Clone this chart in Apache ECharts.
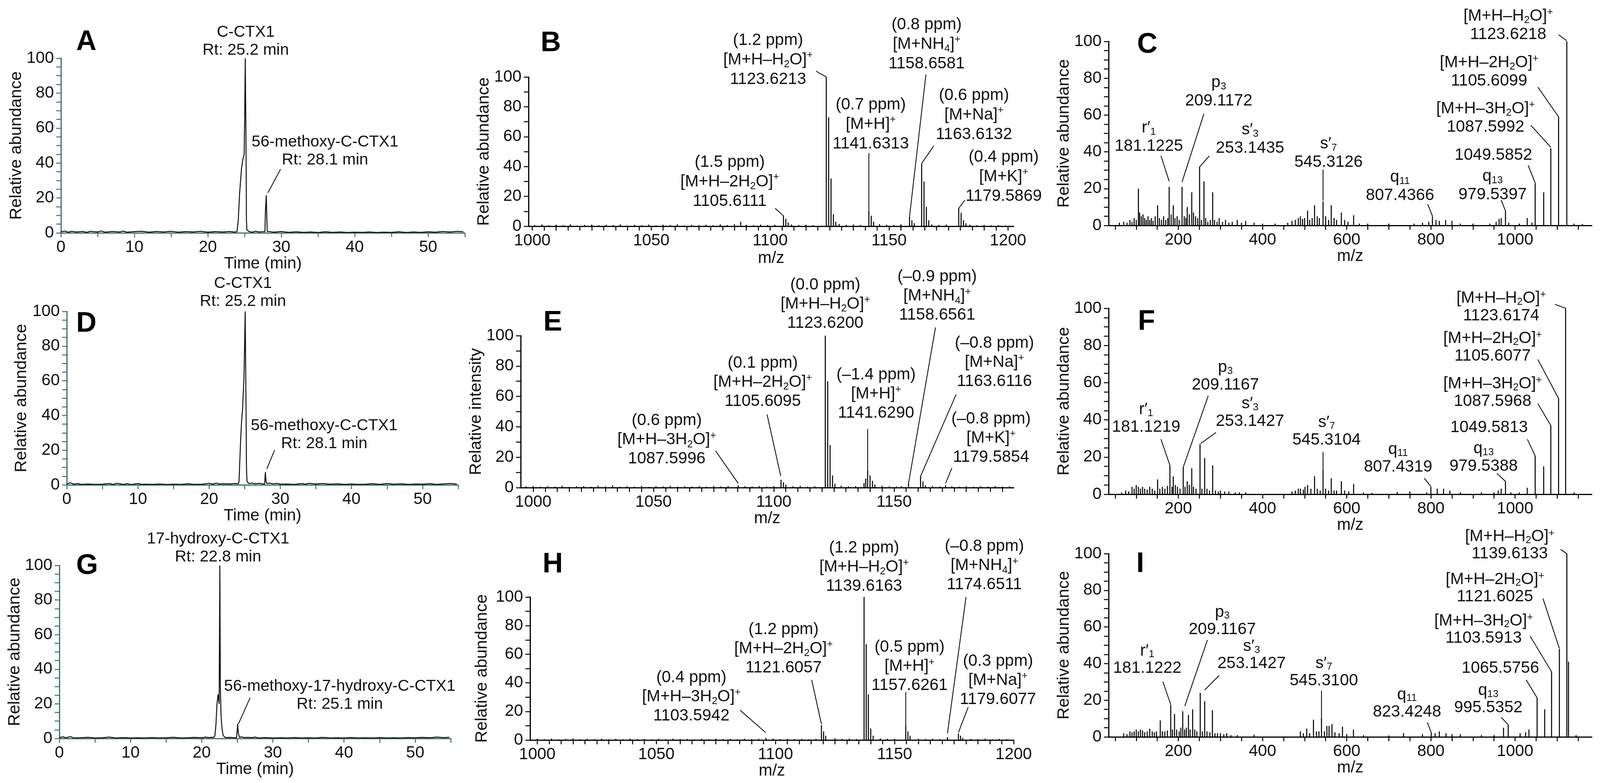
<!DOCTYPE html>
<html><head><meta charset="utf-8">
<script src="https://cdn.jsdelivr.net/npm/echarts@6/dist/echarts.min.js"></script>
<style>html,body{margin:0;padding:0;background:#fff}#c{width:4102px;height:2004px}</style>
</head><body><div id="c"></div>
<script>
// ---------------- tick labels ----------------
const timeLabels = [0, 10, 20, 30, 40, 50];
const relLabels = [0, 20, 40, 60, 80, 100];
const ms1Labels = [1000, 1050, 1100, 1150, 1200];
const ms2Labels = [200, 400, 600, 800, 1000];

// ---------------- chromatograms [time, rel. abundance] ----------------
const chromA = [[0,0.6],[0.5,1.0],[1,0.4],[1.5,0.9],[2,0.5],[3,0.8],[3.5,0.3],[4,0.9],[5,0.5],[5.5,1.1],[6,0.4],[7,0.8],[8,0.5],[8.5,1.0],[9,0.4],[10,0.7],[11,0.9],[12,0.4],[13,0.8],[14,0.5],[15,0.9],[16,0.4],[17,0.7],[18,0.5],[19,0.9],[20,0.4],[21,0.7],[22,0.5],[23,0.8],[23.5,0.5],[23.97,0.6],[24.15,7.4],[24.32,22],[24.59,37],[24.77,42],[24.95,45],[25.02,66],[25.1,100],[25.2,52],[25.26,7.5],[25.32,1.8],[25.6,0.8],[26,0.4],[26.5,0.9],[27,0.5],[27.5,0.7],[27.78,0.6],[27.84,12],[27.96,21.5],[28.05,6],[28.1,0.8],[28.5,0.7],[29,0.4],[30,0.8],[31,0.3],[32,0.6],[33,0.3],[34,0.5],[35,0.2],[36,0.6],[37,0.3],[38,0.5],[39,0.2],[40,0.4],[41,0.3],[42,0.5],[43,0.2],[44,0.4],[45,0.3],[46,0.6],[47,0.2],[48,0.5],[49,0.3],[50,0.6],[51,0.4],[52,0.8],[53,0.5],[54,0.9],[54.8,0.6]];
const chromD = [[0,0.5],[0.5,1.2],[1,0.4],[1.5,0.8],[2,0.3],[3,0.5],[4,0.3],[5,0.4],[6,0.8],[6.5,0.3],[7,0.9],[8,0.3],[8.5,0.7],[9,0.2],[10,0.8],[10.5,0.3],[11,0.4],[12,0.3],[13,0.5],[14,0.2],[15,0.4],[16,0.3],[17,0.6],[18,0.3],[19,0.4],[20,0.9],[20.5,0.4],[21,1.0],[21.5,0.5],[22,0.7],[23,0.5],[23.5,0.8],[24.1,0.6],[24.2,2],[24.4,23],[24.55,36],[24.7,44],[24.9,62],[25.07,100],[25.17,52],[25.25,10],[25.32,2],[25.6,0.8],[26,1.0],[26.5,0.6],[27,0.9],[27.5,0.6],[27.8,0.5],[27.9,7.3],[28.0,2],[28.1,0.8],[28.5,1.0],[29,0.6],[29.5,0.9],[30,0.4],[31,0.5],[32,0.3],[33,0.8],[33.5,0.4],[34,0.9],[35,0.5],[36,0.8],[37,0.4],[38,0.6],[39,0.3],[40,0.5],[41,0.3],[42,0.4],[43,0.7],[44,0.3],[45,0.8],[46,0.4],[47,0.6],[48,0.3],[49,0.5],[50,0.4],[51,0.7],[52,0.3],[53,0.6],[54,0.8],[54.8,0.5]];
const chromG = [[0,0.5],[0.5,0.9],[1,0.4],[1.5,1.1],[2,0.3],[3,0.4],[4,0.7],[5,0.3],[6,0.4],[7,0.8],[8,0.3],[9,0.5],[10,0.3],[11,0.4],[12,0.3],[13,0.5],[14,0.3],[15,0.4],[16,0.7],[17,0.3],[18,0.4],[19,0.6],[20,0.4],[20.5,0.8],[21,0.5],[21.5,0.7],[21.7,0.6],[21.85,1.5],[22.0,8],[22.15,20],[22.3,25.5],[22.45,20],[22.55,100],[22.62,30],[22.72,13],[22.85,6],[23.0,2],[23.2,0.8],[23.5,0.5],[24,0.6],[24.5,0.4],[24.9,0.5],[25.05,8.3],[25.15,3],[25.3,0.7],[25.6,0.9],[26,0.5],[26.5,0.7],[27,0.4],[27.5,0.8],[28,0.3],[29,0.5],[30,0.3],[31,0.4],[32,0.3],[33,0.5],[34,0.3],[35,0.4],[36,0.3],[37,0.6],[38,0.3],[39,0.4],[40,0.3],[41,0.5],[42,0.3],[43,0.4],[44,0.3],[45,0.5],[46,0.3],[47,0.4],[48,0.3],[49,0.5],[50,0.4],[51,0.6],[52,0.4],[53,0.8],[54,0.5],[54.8,0.7]];

// ---------------- full-scan spectra [m/z, rel. abundance] ----------------
const specB = [[1087.6,3],[1105.6,7],[1106.6,5],[1107.6,2.5],[1123.6,100],[1124.6,73],[1125.6,32],[1126.6,8],[1127.6,3],[1141.5,10.2],[1142.5,7],[1143.5,3],[1158.6,6.3],[1159.6,4],[1160.6,2],[1163.7,42],[1164.7,30],[1165.7,13],[1166.7,4],[1179.3,12],[1180.3,9],[1181.3,4],[1182.3,2]];
const noiseB = [[1001,0.8],[1004,1.2],[1007,0.6],[1010,1.0],[1013,0.7],[1016,1.3],[1019,0.5],[1022,0.9],[1025,1.1],[1028,0.6],[1031,1.0],[1034,0.8],[1037,1.2],[1040,0.5],[1043,0.9],[1046,0.7],[1049,1.1],[1052,0.6],[1055,1.0],[1058,0.8],[1061,1.3],[1064,0.5],[1067,0.9],[1070,0.7],[1073,1.0],[1076,0.6],[1079,1.2],[1082,0.8],[1085,1.4],[1090,0.9],[1093,0.7],[1096,1.1],[1099,0.8],[1102,1.0],[1109,1.2],[1112,0.8],[1115,1.0],[1118,0.7],[1129,1.5],[1132,0.9],[1135,1.2],[1138,0.8],[1146,1.4],[1149,1.0],[1152,0.8],[1155,1.3],[1168,1.2],[1171,0.9],[1174,1.1],[1184,1.0],[1187,0.7],[1190,0.9],[1193,0.6],[1196,0.8],[1199,0.5]];
const specE = [[1085.2,1.5],[1103,5.1],[1104,3.5],[1105,2],[1121.4,100],[1122.4,70],[1123.4,28],[1124.4,8],[1125.4,2.5],[1137.5,3],[1138.2,6],[1139,11.3],[1140,8],[1141,4.5],[1142,2],[1156,2.8],[1161,7.5],[1162,4],[1163,1.5],[1171.4,1.5]];
const noiseE = [[997,0.8],[1000,1.1],[1003,0.6],[1006,1.0],[1009,0.7],[1012,1.2],[1015,0.5],[1018,0.9],[1021,1.0],[1024,0.6],[1027,1.2],[1030,0.8],[1033,1.4],[1036,0.6],[1039,0.9],[1042,0.7],[1045,1.1],[1048,0.5],[1051,1.0],[1054,0.8],[1057,1.2],[1060,0.6],[1063,0.9],[1066,0.7],[1069,1.0],[1072,0.6],[1075,1.1],[1078,0.8],[1081,1.0],[1088,0.9],[1091,0.7],[1094,1.1],[1097,0.8],[1100,1.0],[1108,0.9],[1111,1.2],[1114,0.7],[1117,1.0],[1128,1.3],[1131,0.8],[1134,1.0],[1145,1.2],[1148,0.9],[1151,0.7],[1153,1.0],[1166,1.1],[1169,0.8],[1174,0.9],[1177,0.7],[1180,1.0],[1183,0.6],[1186,0.9],[1189,0.7],[1192,1.0],[1195,0.6],[1198,0.8]];
const specH = [[1096,1.5],[1119.3,10.5],[1120.2,6],[1121.1,3],[1137.2,100],[1138.1,67],[1139,32],[1140,8],[1141,3],[1154.7,10],[1155.6,6],[1156.5,3],[1172.2,2],[1176.8,4.5],[1177.7,3],[1178.6,1.5]];
const noiseH = [[1000,0.9],[1003,0.6],[1006,1.0],[1009,0.5],[1012,0.8],[1015,1.1],[1018,0.6],[1021,0.9],[1024,0.7],[1027,1.0],[1030,0.5],[1033,0.9],[1036,0.6],[1039,1.0],[1042,0.7],[1045,0.8],[1048,0.5],[1051,0.9],[1054,0.6],[1057,1.0],[1060,0.7],[1063,0.8],[1066,0.5],[1069,0.9],[1072,0.6],[1075,1.0],[1078,0.7],[1081,0.8],[1084,0.5],[1087,0.9],[1090,0.6],[1093,0.8],[1099,1.0],[1102,0.7],[1105,0.9],[1108,0.6],[1111,0.8],[1114,0.5],[1117,0.9],[1125,1.2],[1128,0.8],[1131,1.0],[1134,0.7],[1144,1.1],[1147,0.8],[1150,0.9],[1160,1.0],[1163,0.7],[1166,0.9],[1169,0.6],[1182,0.8],[1185,0.6],[1188,0.9],[1191,0.5],[1194,0.8],[1197,0.6]];

// ---------------- MS/MS spectra [m/z, rel. abundance] ----------------
const specC = [[60,1.5],[70,2],[78,1.5],[85,3],[90,2],[95,4],[100,3],[105.1,20],[108,7],[112,5],[116,6],[120,4],[124,3],[128,5],[132,3],[136,4],[140,2.5],[145,5],[150.7,11],[155,4],[160,3],[165,5],[170,3],[175,4],[178.2,21],[183,6],[188,11],[192,4],[197,5],[202,3],[208.8,21],[214,5],[218,4],[221.1,10],[226,6],[231.9,18],[236,7],[241,5],[246,4],[250.5,32],[255,3],[260.9,24],[265,4],[270,2],[276,3],[281.6,18],[286,3],[292,2],[297,4],[305,2],[312,3],[320,1.5],[328,2],[340,3],[350,1.5],[360,2.5],[380,1.5],[400,1],[430,1],[460,1.5],[470,2.5],[478,3],[485,4],[490,5],[495,3.5],[500,4],[507,8],[512,3],[518,4],[523.6,11],[530,5],[535,4],[543.8,13],[550,5],[557,3],[563.3,11],[570,4],[576,3],[587.3,7],[595,3],[603,2],[616.4,5.5],[630,1],[650,1],[700,1],[760,1],[780,1.5],[795,2],[803.7,5],[812,3],[820,2.5],[835,3],[850,2.5],[870,1],[900,1],[940,1],[955,2],[962,3.5],[967,4],[977.2,8],[985,1.5],[1010,1],[1029,4],[1040,1.5],[1047.8,23],[1068,18],[1084.9,42],[1103.4,59],[1122.9,100],[1140,1],[1160,0.8]];
const specF = [[65,1],[75,2],[82,1.5],[90,4],[95,3],[100,5],[105,4],[110,3],[115,4],[120,3],[126,2.5],[132,4],[138,3],[144,2],[150.7,8],[156,3],[162,4],[168,3],[174,4.5],[180,15.5],[185,4],[188,9.6],[193,5],[198,4],[204,3],[211.6,14.5],[216,4],[221.1,7],[226,5],[231.9,14],[236,4],[242,3],[251.5,27],[256,3],[262.6,19.5],[268,3],[274,2],[281.6,15.5],[288,2],[295,1.5],[300,2],[310,1.5],[320,1.5],[335,1],[345,1],[360,1],[470,1.5],[478,2],[485,3],[490,3],[497,2.5],[501,4],[507,5],[515,3],[523.6,9.7],[530,3],[537,2],[543.8,13],[550,3],[557,2],[563.3,8.6],[570,2],[576,2],[587.3,7],[595,2],[605,1.5],[616.4,5.5],[640,1],[660,0.8],[720,1.2],[750,1.5],[790,1],[800,4],[815,3],[830,3],[845,2],[870,1],[920,1],[950,1],[960,2],[967,3],[977.2,7],[990,1],[1010,1],[1029,3.5],[1047.8,20.6],[1068,15],[1084.9,37],[1103.4,51.5],[1120.1,100],[1140,1]];
const specI = [[70,2],[78,1.5],[85,3],[90,2.5],[95,3],[100,4],[105,3],[110,4],[115,3.5],[120,2.5],[126,3],[132,4.5],[138,3],[143,2.5],[148,3],[157,9],[162,3],[168,3],[174,3.5],[181.9,17.5],[186,4],[191,12.5],[196,4],[202,3],[206,5],[210.5,14],[215,4],[219,5],[224,12],[228,4],[234,15],[239,4],[244,3],[252,24],[257,3],[262.6,19.5],[268,3],[275,2.5],[281,14.5],[287,2],[293,2],[300,2],[308,1.5],[315,2],[325,1],[340,1],[380,1.2],[490,3],[497,2],[505,4.5],[512,2],[521,9.4],[528,3],[534,3],[540.1,10.6],[547,3],[553,6],[558,6],[565,7],[572,2.5],[582,2],[590,5.6],[600,1.5],[616,4],[640,1],[700,0.8],[735,2],[780,1.5],[800.9,2.3],[810,2],[820,3],[836,2],[850,1.5],[870,1.5],[920,1],[950,1],[972.6,5],[983.7,6.6],[1012,2],[1025,2.5],[1033,4],[1052.4,21.3],[1070.4,15],[1086.7,35.6],[1105.3,48],[1123,100],[1127,41],[1145,1]];

// ---------------- annotations [x, y, text] and leader lines [x1, y1, x2, y2] (data units) ----------------
const annA = [[25.16,109.8,'C-CTX1\nRt: 25.2 min'],[35.96,46.8,'56-methoxy-C-CTX1\nRt: 28.1 min']];
const leadA = [[28.19,23,29.9,36.4]];
const annD = [[24.75,110.8,'C-CTX1\nRt: 25.2 min'],[36.17,29,'56-methoxy-C-CTX1\nRt: 28.1 min']];
const leadD = [[28.1,9.2,29.2,20]];
const annG = [[22.3,110,'17-hydroxy-C-CTX1\nRt: 22.8 min'],[39.4,24.8,'56-methoxy-17-hydroxy-C-CTX1\nRt: 25.1 min']];
const leadG = [[25.15,8.3,26.8,23.5]];

const annB = [[1099.1,111.5,'(1.2 ppm)\n[M+H–H{s|2}O]{p|+}\n1123.6213'],[1165.8,122,'(0.8 ppm)\n[M+NH{s|4}]{p|+}\n1158.6581'],[1142.3,68.3,'(0.7 ppm)\n[M+H]{p|+}\n1141.6313'],[1185.7,74.6,'(0.6 ppm)\n[M+Na]{p|+}\n1163.6132'],[1198.2,33.2,'(0.4 ppm)\n[M+K]{p|+}\n1179.5869'],[1083,29.8,'(1.5 ppm)\n[M+H–2H{s|2}O]{p|+}\n1105.6111']];
const leadB = [[1119.3,103.9,1123.6,100],[1165.5,101.6,1158.6,6.3],[1141.5,49,1141.5,10.2],[1168.8,53.9,1163.7,42],[1181.9,17.5,1179.3,12],[1102.1,12,1105.6,7]];
const annE = [[1121.4,120.8,'(0.0 ppm)\n[M+H–H{s|2}O]{p|+}\n1123.6200'],[1167.9,126,'(–0.9 ppm)\n[M+NH{s|4}]{p|+}\n1158.6561'],[1095.4,69.4,'(0.1 ppm)\n[M+H–2H{s|2}O]{p|+}\n1105.6095'],[1142.5,61.7,'(–1.4 ppm)\n[M+H]{p|+}\n1141.6290'],[1191.7,82.5,'(–0.8 ppm)\n[M+Na]{p|+}\n1163.6116'],[1190.3,32.6,'(–0.8 ppm)\n[M+K]{p|+}\n1179.5854'],[1055.5,31.4,'(0.6 ppm)\n[M+H–3H{s|2}O]{p|+}\n1087.5996']];
const leadE = [[1167.2,105.4,1156,2.8],[1097.2,48.1,1102.9,7.5],[1139,38.6,1139,11.3],[1175.8,61.4,1161,7.5],[1174,12.9,1171.4,2.8],[1075.8,24.2,1085.2,2.8]];
const annH = [[1137.2,121,'(1.2 ppm)\n[M+H–H{s|2}O]{p|+}\n1139.6163'],[1187.7,121.9,'(–0.8 ppm)\n[M+NH{s|4}]{p|+}\n1174.6511'],[1103.4,63.9,'(1.2 ppm)\n[M+H–2H{s|2}O]{p|+}\n1121.6057'],[1156.3,51.4,'(0.5 ppm)\n[M+H]{p|+}\n1157.6261'],[1193.4,41.8,'(0.3 ppm)\n[M+Na]{p|+}\n1179.6077'],[1064.7,30.3,'(0.4 ppm)\n[M+H–3H{s|2}O]{p|+}\n1103.5942']];
const leadH = [[1180,100,1172.2,4.6],[1115.2,42.1,1119.3,11.2],[1154.7,33.6,1154.7,10.1],[1180.9,23,1176.8,5.2],[1085.2,20.8,1095.9,5.2]];

const annC = [[983.7,108.7,'[M+H–H{s|2}O]{p|+}\n1123.6218'],[938.3,83.4,'[M+H–2H{s|2}O]{p|+}\n1105.6099'],[929.9,58.4,'[M+H–3H{s|2}O]{p|+}\n1087.5992'],[948.5,38.2,'1049.5852'],[946.6,21.7,'q{s|13}\n979.5397'],[726.6,21.2,'q{s|11}\n807.4366'],[556.8,39.3,'s′{s|7}\n545.3126'],[370.3,46.9,'s′{s|3}\n253.1435'],[296,72.6,'p{s|3}\n209.1172'],[129.9,48,'r′{s|1}\n181.1225']];
const leadC = [[1103.4,103.6,1122.9,100.4],[1054.2,75.2,1103.4,59],[1037.5,54.4,1084.9,42.5],[1031.1,32.7,1047.8,23.1],[967,13.8,977.2,7.9],[792.5,11.5,803.7,5.1],[543.8,30.4,543.8,13.4],[273.7,37.8,250.5,31.8],[260.8,60.7,208.8,23.6],[158.7,37.8,178.2,24]];
const annF = [[967,100.6,'[M+H–H{s|2}O]{p|+}\n1123.6174'],[946.6,79,'[M+H–2H{s|2}O]{p|+}\n1105.6077'],[946.6,54.6,'[M+H–3H{s|2}O]{p|+}\n1087.5968'],[938.3,35.9,'1049.5813'],[925.3,19.7,'q{s|13}\n979.5388'],[722,19.3,'q{s|11}\n807.4319'],[552.2,33.8,'s′{s|7}\n545.3104'],[370.3,43.9,'s′{s|3}\n253.1427'],[311.8,63.4,'p{s|3}\n209.1167'],[123.4,40.8,'r′{s|1}\n181.1219']];
const leadF = [[1095.1,102.1,1120.1,100],[1054.2,72.5,1103.4,51.5],[1054.2,48.7,1084.9,37],[1029.2,29.6,1047.8,20.6],[956.8,11.3,977.2,6.9],[784.2,8.6,800,4.2],[543.8,22.7,543.8,12.8],[289.5,33.2,253,27.3],[271,52.9,211.6,14.5],[158.7,29.6,180,15.5]];
const annI = [[987.4,104.5,'[M+H–H{s|2}O]{p|+}\n1139.6133'],[952.2,81.2,'[M+H–2H{s|2}O]{p|+}\n1121.6025'],[925.3,58.6,'[M+H–3H{s|2}O]{p|+}\n1103.5913'],[965.2,37.5,'1065.5756'],[936.4,20.5,'q{s|13}\n995.5352'],[743.3,18.3,'q{s|11}\n823.4248'],[545.7,35.4,'s′{s|7}\n545.3100'],[374,44.6,'s′{s|3}\n253.1427'],[304.4,63.3,'p{s|3}\n209.1167'],[126.2,42.2,'r′{s|1}\n181.1222']];
const leadI = [[1108.1,102.3,1123,100],[1066.3,75.5,1105.3,48.2],[1035.7,55,1086.7,35.6],[1026.4,31.1,1052.4,21.3],[967,10.7,983.7,6.6],[791.6,7.9,800.9,2.3],[540.1,25.2,540.1,10.7],[296.9,33.5,262.6,25.6],[269.1,52.9,215.3,16.8],[163.3,30.1,181.9,17.7]];

// ---------------- layout / styling ----------------
const FONT = '"Liberation Sans", Arial, Helvetica, sans-serif';
const TEAL = '#41706f';
function steps(a, b, s) { const r = []; for (let v = a; v <= b + 1e-9; v += s) r.push(Math.round(v * 1000) / 1000); return r; }
const timeTicks = steps(0, 55, 5), rel5 = steps(0, 100, 5), rel10 = steps(0, 100, 10);
const ms1Ticks = steps(1000, 1200, 5), ms2Ticks = steps(50, 1150, 50);
const plain = v => String(Math.round(v));

const panels = [
  {L:'A', kind:'chrom', g:[156,149,1034,447], x:[0,55], data:chromA, ann:annA, lead:leadA, yName:'Relative abundance', xName:'Time (min)', xGap:46, yGap:86, let:[221,108], lh:46, fs:41},
  {L:'D', kind:'chrom', g:[171,797,1002,444], x:[0,55], data:chromD, ann:annD, lead:leadD, yName:'Relative abundance', xName:'Time (min)', xGap:44, yGap:94, let:[221,829], lh:46, fs:41},
  {L:'G', kind:'chrom', g:[152,1447,1002,443], x:[0,55], data:chromG, ann:annG, lead:leadG, yName:'Relative abundance', xName:'Time (min)', xGap:48, yGap:89, let:[223,1449], lh:46, fs:41},
  {L:'B', kind:'ms1', g:[1353,197,1242,382], x:[998.4,1202.4], data:specB.concat(noiseB), ann:annB, lead:leadB, yName:'Relative abundance', xName:'m/z', xGap:61, yGap:86, let:[1410,111], lh:50, fs:42},
  {L:'E', kind:'ms1', g:[1333,859,1262,389], x:[994.8,1199.7], data:specE.concat(noiseE), ann:annE, lead:leadE, yName:'Relative intensity', xName:'m/z', xGap:50, yGap:91, let:[1415,826], lh:49, fs:42},
  {L:'H', kind:'ms1', g:[1357,1528,1238,366], x:[997,1200], data:specH.concat(noiseH), ann:annH, lead:leadH, yName:'Relative abundance', xName:'m/z', xGap:57, yGap:101, let:[1415,1445], lh:49, fs:42},
  {L:'C', kind:'ms2', g:[2838,106,1237,471], x:[34.3,1182.3], data:specC, ann:annC, lead:leadC, yName:'Relative abundance', xName:'m/z', xGap:52, yGap:75, let:[2937,115], lh:47, fs:42},
  {L:'F', kind:'ms2', g:[2838,789,1237,476], x:[34.3,1182.3], data:specF, ann:annF, lead:leadF, yName:'Relative abundance', xName:'m/z', xGap:50, yGap:92, let:[2935,824], lh:45, fs:42},
  {L:'I', kind:'ms2', g:[2838,1417,1237,469], x:[34.3,1182.3], data:specI, ann:annI, lead:leadI, yName:'Relative abundance', xName:'m/z', xGap:50, yGap:88, let:[2919,1444], lh:44, fs:42}
];

const option = {animation:false, backgroundColor:'#ffffff', grid:[], xAxis:[], yAxis:[], series:[], graphic:[]};

panels.forEach((p, i) => {
  const col = p.kind === 'chrom' ? TEAL : '#000';
  option.grid.push({left:p.g[0], top:p.g[1], width:p.g[2], height:p.g[3], containLabel:false, outerBoundsMode:'none'});
  const xt = p.kind === 'chrom' ? timeTicks : (p.kind === 'ms1' ? ms1Ticks : ms2Ticks);
  const xl = p.kind === 'chrom' ? timeLabels : (p.kind === 'ms1' ? ms1Labels : ms2Labels);
  const yt = p.kind === 'ms1' ? rel10 : rel5;
  option.xAxis.push({
    gridIndex:i, type:'value', min:p.x[0], max:p.x[1],
    name:p.xName, nameLocation:'middle', nameGap:p.xGap,
    nameTextStyle:{fontSize:42, fontFamily:FONT, color:'#111'},
    axisLine:{show:true, onZero:false, lineStyle:{color:col, width:3}},
    axisTick:{show:true, customValues:xt, length:11, lineStyle:{color:col, width:2.5}},
    axisLabel:{show:true, customValues:xl, formatter:plain, fontSize:42, fontFamily:FONT, color:'#111', margin:16},
    splitLine:{show:false}
  });
  option.yAxis.push({
    gridIndex:i, type:'value', min:0, max:100,
    name:p.yName, nameLocation:'middle', nameGap:p.yGap,
    nameTextStyle:{fontSize:43, fontFamily:FONT, color:'#111'},
    axisLine:{show:true, onZero:false, lineStyle:{color:col, width:3}},
    axisTick:{show:true, customValues:yt, length:12, lineStyle:{color:col, width:2.5}},
    axisLabel:{show:true, customValues:relLabels, formatter:plain, fontSize:42, fontFamily:FONT, color:'#111', margin:18},
    splitLine:{show:false}
  });

  if (p.kind === 'chrom') {
    option.series.push({type:'line', xAxisIndex:i, yAxisIndex:i, data:p.data, showSymbol:false, symbol:'none',
      lineStyle:{color:'#111', width:2.5}, clip:true, silent:true});
  } else {
    option.series.push({type:'custom', xAxisIndex:i, yAxisIndex:i, data:p.data, encode:{x:0, y:1}, silent:true, clip:true,
      renderItem:function (params, api) {
        const a = api.coord([api.value(0), 0]);
        const b = api.coord([api.value(0), api.value(1)]);
        return {type:'line', shape:{x1:a[0], y1:a[1], x2:b[0], y2:b[1]}, style:{stroke:'#000', lineWidth:2.6}};
      }});
  }
  // leader lines
  option.series.push({type:'custom', xAxisIndex:i, yAxisIndex:i, data:p.lead, encode:{x:[0,2], y:[1,3]}, silent:true,
    renderItem:function (params, api) {
      const a = api.coord([api.value(0), api.value(1)]);
      const b = api.coord([api.value(2), api.value(3)]);
      return {type:'line', shape:{x1:a[0], y1:a[1], x2:b[0], y2:b[1]}, style:{stroke:'#111', lineWidth:2.2}};
    }});
  // annotation text blocks
  const ann = p.ann, lh = p.lh, fs = p.fs;
  option.series.push({type:'custom', xAxisIndex:i, yAxisIndex:i, data:ann.map(a => [a[0], a[1]]), encode:{x:0, y:1}, silent:true,
    renderItem:function (params, api) {
      const c = api.coord([api.value(0), api.value(1)]);
      return {type:'text', x:c[0], y:c[1], style:{
        text:ann[params.dataIndex][2], fill:'#111', fontSize:fs, fontFamily:FONT,
        align:'center', verticalAlign:'middle', lineHeight:lh,
        rich:{
          s:{fontSize:Math.round(fs*0.62), fontFamily:FONT, fill:'#111', verticalAlign:'bottom', lineHeight:Math.round(fs*0.62)},
          p:{fontSize:Math.round(fs*0.62), fontFamily:FONT, fill:'#111', verticalAlign:'top', lineHeight:Math.round(fs*0.62)}
        }}};
    }});
  // panel letter
  option.graphic.push({type:'text', x:p.let[0], y:p.let[1], silent:true,
    style:{text:p.L, fontSize:72, fontWeight:'bold', fontFamily:FONT, fill:'#000', align:'center', verticalAlign:'middle'}});
});

const chart = echarts.init(document.getElementById('c'), null, {renderer:'canvas', width:4102, height:2004});
chart.setOption(option);
</script></body></html>
